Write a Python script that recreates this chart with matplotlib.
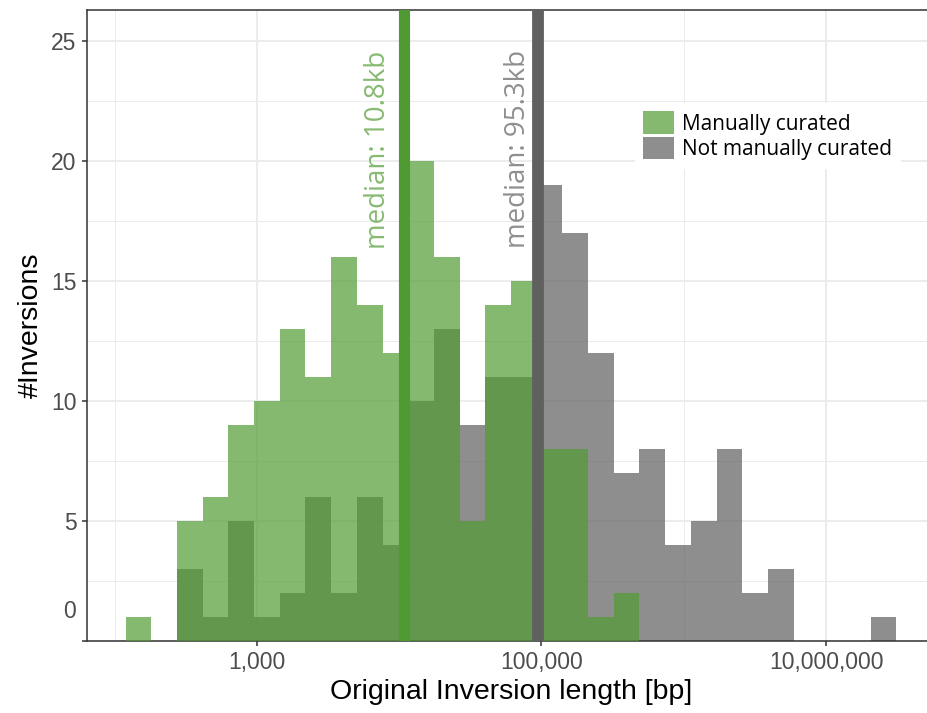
import numpy as np
import matplotlib
matplotlib.use("Agg")
import matplotlib.pyplot as plt
from matplotlib.patches import Patch

# histogram bins (log10 of inversion length), 30 bins
log_start = 2.077
log_binwidth = 0.1806
n_bins = 30

manual_counts = [1, 0, 5, 6, 9, 10, 13, 11, 16, 14, 12, 20, 16, 5, 14,
                 15, 8, 8, 1, 2, 0, 0, 0, 0, 0, 0, 0, 0, 0, 0]
other_counts = [0, 0, 3, 1, 5, 1, 2, 6, 2, 6, 4, 10, 13, 9, 11,
                11, 19, 17, 12, 7, 8, 4, 5, 8, 2, 3, 0, 0, 0, 1]

median_manual = 10800
median_other = 95300
median_labels = ["median: 10.8kb", "median: 95.3kb"]
legend_labels = ["Manually curated", "Not manually curated"]

x_ticks = [1e3, 1e5, 1e7]
x_ticklabels = ["1,000", "100,000", "10,000,000"]
y_ticks = [0, 5, 10, 15, 20, 25]

green = "#529c34"
gray = "#5f5f5f"

edges = 10 ** (log_start + log_binwidth * np.arange(n_bins + 1))
widths = np.diff(edges)

fig = plt.figure(figsize=(9.28, 7.13), dpi=100)
ax = fig.add_axes([87 / 928, 72 / 713, (935 - 87) / 928, (641 - 10) / 713])

ax.bar(edges[:-1], other_counts, width=widths, align="edge",
       color=gray, alpha=0.7, linewidth=0, zorder=2)
ax.bar(edges[:-1], manual_counts, width=widths, align="edge",
       color=green, alpha=0.7, linewidth=0, zorder=3)

ax.axvline(median_manual, color="#4f9a32", lw=8, zorder=4)
ax.axvline(median_other, color="#606060", lw=8.5, zorder=4)

ax.text(7080, 24.6, median_labels[0], rotation=90, ha="center", va="top",
        color="#86ba71", fontsize=20, family="Open Sans", zorder=5)
ax.text(68500, 24.6, median_labels[1], rotation=90, ha="center", va="top",
        color="#8f8f8f", fontsize=20, family="Open Sans", zorder=5)

ax.set_xscale("log")
ax.set_xlim(10 ** 1.806, 10 ** 7.766)
ax.set_ylim(0, 26.28)

ax.set_xticks(x_ticks)
ax.set_xticklabels(x_ticklabels)
ax.set_xticks([1e2, 1e4, 1e6], minor=True)
ax.xaxis.set_minor_formatter(plt.NullFormatter())
ax.set_yticks(y_ticks)
ax.set_yticklabels([""] + [str(v) for v in y_ticks[1:]])
ax.set_yticks([2.5, 7.5, 12.5, 17.5, 22.5], minor=True)

ax.tick_params(which="major", length=3.5, width=1.1, color="#333333",
               labelcolor="#4d4d4d", labelsize=16.5, pad=4)
ax.tick_params(which="minor", length=0)
for lab in ax.get_xticklabels() + ax.get_yticklabels():
    lab.set_family("Liberation Sans")

# the zero label sits a little above its tick in the original
ax.annotate("0", xy=(0, 0), xycoords=("axes fraction", "data"),
            xytext=(-8, 21), textcoords="offset points", ha="right",
            va="center", color="#4d4d4d", fontsize=16.5,
            family="Liberation Sans")

ax.grid(which="major", color="#ebebeb", lw=1.3, zorder=0)
ax.grid(which="minor", color="#ebebeb", lw=0.7, zorder=0)
ax.set_axisbelow(True)

for side in ["left", "bottom", "top", "right"]:
    ax.spines[side].set_color("#333333")
    ax.spines[side].set_linewidth(1.1)

ax.set_xlabel("Original Inversion length [bp]", fontsize=20.5,
              family="Liberation Sans", labelpad=3)
ax.set_ylabel("#Inversions", fontsize=20.5, family="Liberation Sans",
              labelpad=5)

handles = [Patch(facecolor=green, alpha=0.7, edgecolor="none"),
           Patch(facecolor=gray, alpha=0.7, edgecolor="none")]
leg = fig.legend(handles, legend_labels, loc="upper left",
                 bbox_to_anchor=(635 / 928, 1 - 103 / 713),
                 frameon=True, fancybox=False, framealpha=1,
                 edgecolor="white", facecolor="white",
                 prop={"family": "Open Sans", "size": 15},
                 handlelength=1.45, handleheight=1.3, labelspacing=0.1,
                 handletextpad=0.4, borderpad=0.4, borderaxespad=0)
leg.set_zorder(6)

fig.savefig("out.png", dpi=100)
